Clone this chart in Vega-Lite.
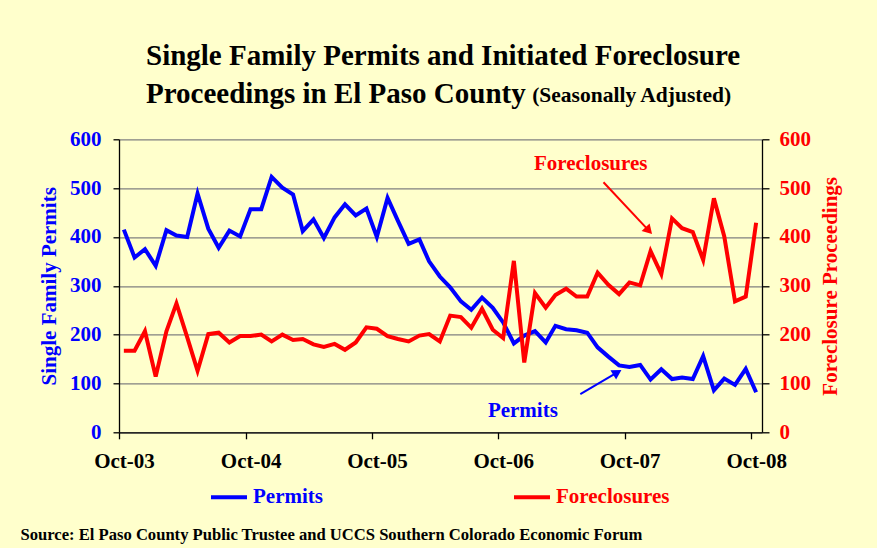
{
  "$schema": "https://vega.github.io/schema/vega-lite/v6.json",
  "width": 643,
  "height": 293,
  "autosize": {"type": "none"},
  "padding": {"left": 119, "top": 139.3, "right": 115, "bottom": 115.7},
  "background": "#FFFFCC",
  "config": {
    "view": {"stroke": null},
    "font": "Liberation Serif"
  },
  "title": {
    "text": ["Single Family Permits and Initiated Foreclosure", "Proceedings in El Paso County"],
    "anchor": "start",
    "frame": "group",
    "dx": 27,
    "offset": -24,
    "font": "Liberation Serif",
    "fontSize": 29,
    "fontWeight": "bold",
    "color": "#000000",
    "lineHeight": 37.4
  },
  "data": {
    "values": [
      {"date": "2003-10-15", "permits": 415, "foreclosures": 167},
      {"date": "2003-11-15", "permits": 358, "foreclosures": 167},
      {"date": "2003-12-15", "permits": 375, "foreclosures": 207},
      {"date": "2004-01-15", "permits": 341, "foreclosures": 114},
      {"date": "2004-02-15", "permits": 414, "foreclosures": 207},
      {"date": "2004-03-15", "permits": 403, "foreclosures": 264},
      {"date": "2004-04-15", "permits": 400, "foreclosures": 195},
      {"date": "2004-05-15", "permits": 489, "foreclosures": 126},
      {"date": "2004-06-15", "permits": 417, "foreclosures": 201},
      {"date": "2004-07-15", "permits": 378, "foreclosures": 204},
      {"date": "2004-08-15", "permits": 413, "foreclosures": 184},
      {"date": "2004-09-15", "permits": 401, "foreclosures": 197},
      {"date": "2004-10-15", "permits": 457, "foreclosures": 197},
      {"date": "2004-11-15", "permits": 457, "foreclosures": 200},
      {"date": "2004-12-15", "permits": 523, "foreclosures": 186},
      {"date": "2005-01-15", "permits": 501, "foreclosures": 200},
      {"date": "2005-02-15", "permits": 487, "foreclosures": 189},
      {"date": "2005-03-15", "permits": 412, "foreclosures": 191},
      {"date": "2005-04-15", "permits": 436, "foreclosures": 180},
      {"date": "2005-05-15", "permits": 398, "foreclosures": 175},
      {"date": "2005-06-15", "permits": 440, "foreclosures": 181},
      {"date": "2005-07-15", "permits": 467, "foreclosures": 169},
      {"date": "2005-08-15", "permits": 444, "foreclosures": 184},
      {"date": "2005-09-15", "permits": 458, "foreclosures": 215},
      {"date": "2005-10-15", "permits": 400, "foreclosures": 212},
      {"date": "2005-11-15", "permits": 480, "foreclosures": 197},
      {"date": "2005-12-15", "permits": 433, "foreclosures": 191},
      {"date": "2006-01-15", "permits": 386, "foreclosures": 186},
      {"date": "2006-02-15", "permits": 395, "foreclosures": 198},
      {"date": "2006-03-15", "permits": 350, "foreclosures": 201},
      {"date": "2006-04-15", "permits": 319, "foreclosures": 186},
      {"date": "2006-05-15", "permits": 297, "foreclosures": 239},
      {"date": "2006-06-15", "permits": 268, "foreclosures": 236},
      {"date": "2006-07-15", "permits": 251, "foreclosures": 214},
      {"date": "2006-08-15", "permits": 276, "foreclosures": 253},
      {"date": "2006-09-15", "permits": 255, "foreclosures": 210},
      {"date": "2006-10-15", "permits": 225, "foreclosures": 193},
      {"date": "2006-11-15", "permits": 182, "foreclosures": 351},
      {"date": "2006-12-15", "permits": 198, "foreclosures": 143},
      {"date": "2007-01-15", "permits": 207, "foreclosures": 285},
      {"date": "2007-02-15", "permits": 184, "foreclosures": 255},
      {"date": "2007-03-15", "permits": 218, "foreclosures": 281},
      {"date": "2007-04-15", "permits": 211, "foreclosures": 294},
      {"date": "2007-05-15", "permits": 209, "foreclosures": 278},
      {"date": "2007-06-15", "permits": 204, "foreclosures": 278},
      {"date": "2007-07-15", "permits": 174, "foreclosures": 327},
      {"date": "2007-08-15", "permits": 155, "foreclosures": 302},
      {"date": "2007-09-15", "permits": 137, "foreclosures": 283},
      {"date": "2007-10-15", "permits": 134, "foreclosures": 307},
      {"date": "2007-11-15", "permits": 138, "foreclosures": 301},
      {"date": "2007-12-15", "permits": 108, "foreclosures": 371},
      {"date": "2008-01-15", "permits": 129, "foreclosures": 324},
      {"date": "2008-02-15", "permits": 109, "foreclosures": 438},
      {"date": "2008-03-15", "permits": 112, "foreclosures": 418},
      {"date": "2008-04-15", "permits": 109, "foreclosures": 410},
      {"date": "2008-05-15", "permits": 156, "foreclosures": 353},
      {"date": "2008-06-15", "permits": 86, "foreclosures": 479},
      {"date": "2008-07-15", "permits": 110, "foreclosures": 401},
      {"date": "2008-08-15", "permits": 97, "foreclosures": 268},
      {"date": "2008-09-15", "permits": 130, "foreclosures": 278},
      {"date": "2008-10-15", "permits": 82, "foreclosures": 429}
    ]
  },
  "encoding": {
    "x": {
      "field": "date",
      "type": "temporal",
      "scale": {
        "type": "utc",
        "domain": [
          {"year": 2003, "month": "Oct", "date": 1, "utc": true},
          {"year": 2008, "month": "Nov", "date": 1, "utc": true}
        ]
      },
      "axis": {
        "values": [
          {"year": 2003, "month": "Oct", "date": 1, "utc": true},
          {"year": 2004, "month": "Oct", "date": 1, "utc": true},
          {"year": 2005, "month": "Oct", "date": 1, "utc": true},
          {"year": 2006, "month": "Oct", "date": 1, "utc": true},
          {"year": 2007, "month": "Oct", "date": 1, "utc": true},
          {"year": 2008, "month": "Oct", "date": 1, "utc": true}
        ],
        "format": "%b-%y",
        "grid": false,
        "domainColor": "#000000",
        "domainWidth": 1.3,
        "tickColor": "#000000",
        "tickWidth": 1.3,
        "tickSize": 6.5,
        "labelFont": "Liberation Serif",
        "labelFontSize": 21,
        "labelFontWeight": "bold",
        "labelColor": "#000000",
        "labelPadding": 12,
        "labelOffset": 5,
        "labelFlush": false,
        "labelOverlap": false,
        "title": "Source: El Paso County Public Trustee and UCCS Southern Colorado Economic Forum",
        "titleX": -99,
        "titleY": 106.7,
        "titleAlign": "left",
        "titleAnchor": "start",
        "titleBaseline": "alphabetic",
        "titleFont": "Liberation Serif",
        "titleFontSize": 16.6,
        "titleFontWeight": "bold",
        "titleColor": "#000000"
      }
    }
  },
  "layer": [
    {
      "layer": [
        {
          "mark": {"type": "line", "strokeWidth": 4},
          "encoding": {
            "y": {
              "field": "permits",
              "type": "quantitative",
              "scale": {"domain": [0, 600]},
              "axis": {
                "orient": "left",
                "values": [0, 100, 200, 300, 400, 500, 600],
                "domainColor": "#000000",
                "domainWidth": 1.3,
                "tickColor": "#000000",
                "tickWidth": 1.3,
                "tickSize": 6,
                "grid": true,
                "gridColor": "#808080",
                "gridWidth": 1.3,
                "labelFont": "Liberation Serif",
                "labelFontSize": 21,
                "labelFontWeight": "bold",
                "labelColor": "#0000FF",
                "labelPadding": 12,
                "title": "Single Family Permits",
                "titleFont": "Liberation Serif",
                "titleFontSize": 21,
                "titleFontWeight": "bold",
                "titleColor": "#0000FF",
                "titlePadding": 10
              }
            },
            "color": {
              "datum": "Permits",
              "scale": {"domain": ["Permits", "Foreclosures"], "range": ["#0000FF", "#FF0000"]},
              "legend": {
                "title": null,
                "orient": "none",
                "legendX": 90,
                "legendY": 338,
                "direction": "horizontal",
                "padding": 0,
                "symbolType": "stroke",
                "symbolSize": 1296,
                "symbolStrokeWidth": 4,
                "labelFont": "Liberation Serif",
                "labelFontSize": 21,
                "labelFontWeight": "bold",
                "labelColor": {"expr": "datum.label == 'Permits' ? '#0000FF' : '#FF0000'"},
                "labelOffset": 4,
                "labelLimit": 400,
                "columnPadding": 183
              }
            }
          }
        },
        {
          "data": {"values": [{"date": "2007-01-07", "value": 677}]},
          "mark": {"type": "text", "text": "(Seasonally Adjusted)", "align": "left", "baseline": "alphabetic", "font": "Liberation Serif", "fontWeight": "bold", "fontSize": 21.5, "color": "#000000"},
          "encoding": {
            "y": {"field": "value", "type": "quantitative"}
          }
        },
        {
          "data": {"values": [{"date": "2007-06-25", "value": 537}]},
          "mark": {"type": "text", "text": "Foreclosures", "align": "center", "baseline": "alphabetic", "font": "Liberation Serif", "fontWeight": "bold", "fontSize": 21, "color": "#FF0000"},
          "encoding": {
            "y": {"field": "value", "type": "quantitative"}
          }
        },
        {
          "data": {"values": [{"date": "2006-12-11", "value": 32}]},
          "mark": {"type": "text", "text": "Permits", "align": "center", "baseline": "alphabetic", "font": "Liberation Serif", "fontWeight": "bold", "fontSize": 21, "color": "#0000FF"},
          "encoding": {
            "y": {"field": "value", "type": "quantitative"}
          }
        },
        {
          "data": {"values": [{"date": "2007-08-01", "value": 512, "date2": "2007-12-10", "value2": 413}]},
          "mark": {"type": "rule", "strokeWidth": 2, "color": "#FF0000"},
          "encoding": {
            "y": {"field": "value", "type": "quantitative"},
            "x2": {"field": "date2"},
            "y2": {"field": "value2"}
          }
        },
        {
          "data": {"values": [{"date": "2007-12-10", "value": 413}]},
          "mark": {"type": "point", "shape": "triangle-up", "filled": true, "opacity": 1, "size": 120, "angle": 137, "color": "#FF0000"},
          "encoding": {
            "y": {"field": "value", "type": "quantitative"}
          }
        },
        {
          "data": {"values": [{"date": "2007-05-26", "value": 78, "date2": "2007-09-10", "value2": 122.7}]},
          "mark": {"type": "rule", "strokeWidth": 2, "color": "#0000FF"},
          "encoding": {
            "y": {"field": "value", "type": "quantitative"},
            "x2": {"field": "date2"},
            "y2": {"field": "value2"}
          }
        },
        {
          "data": {"values": [{"date": "2007-09-10", "value": 122.7}]},
          "mark": {"type": "point", "shape": "triangle-up", "filled": true, "opacity": 1, "size": 120, "angle": 59, "color": "#0000FF"},
          "encoding": {
            "y": {"field": "value", "type": "quantitative"}
          }
        }
      ]
    },
    {
      "mark": {"type": "line", "strokeWidth": 4},
      "encoding": {
        "y": {
          "field": "foreclosures",
          "type": "quantitative",
          "scale": {"domain": [0, 600]},
          "axis": {
            "orient": "right",
            "values": [0, 100, 200, 300, 400, 500, 600],
            "domainColor": "#000000",
            "domainWidth": 1.3,
            "tickColor": "#000000",
            "tickWidth": 1.3,
            "tickSize": 7,
            "grid": false,
            "labelFont": "Liberation Serif",
            "labelFontSize": 21,
            "labelFontWeight": "bold",
            "labelColor": "#FF0000",
            "labelPadding": 10,
            "title": "Foreclosure Proceedings",
            "titleAngle": 270,
            "titleBaseline": "top",
            "titleFont": "Liberation Serif",
            "titleFontSize": 21,
            "titleFontWeight": "bold",
            "titleColor": "#FF0000",
            "titlePadding": 9
          }
        },
        "color": {"datum": "Foreclosures"}
      }
    }
  ],
  "resolve": {"scale": {"y": "independent"}}
}
